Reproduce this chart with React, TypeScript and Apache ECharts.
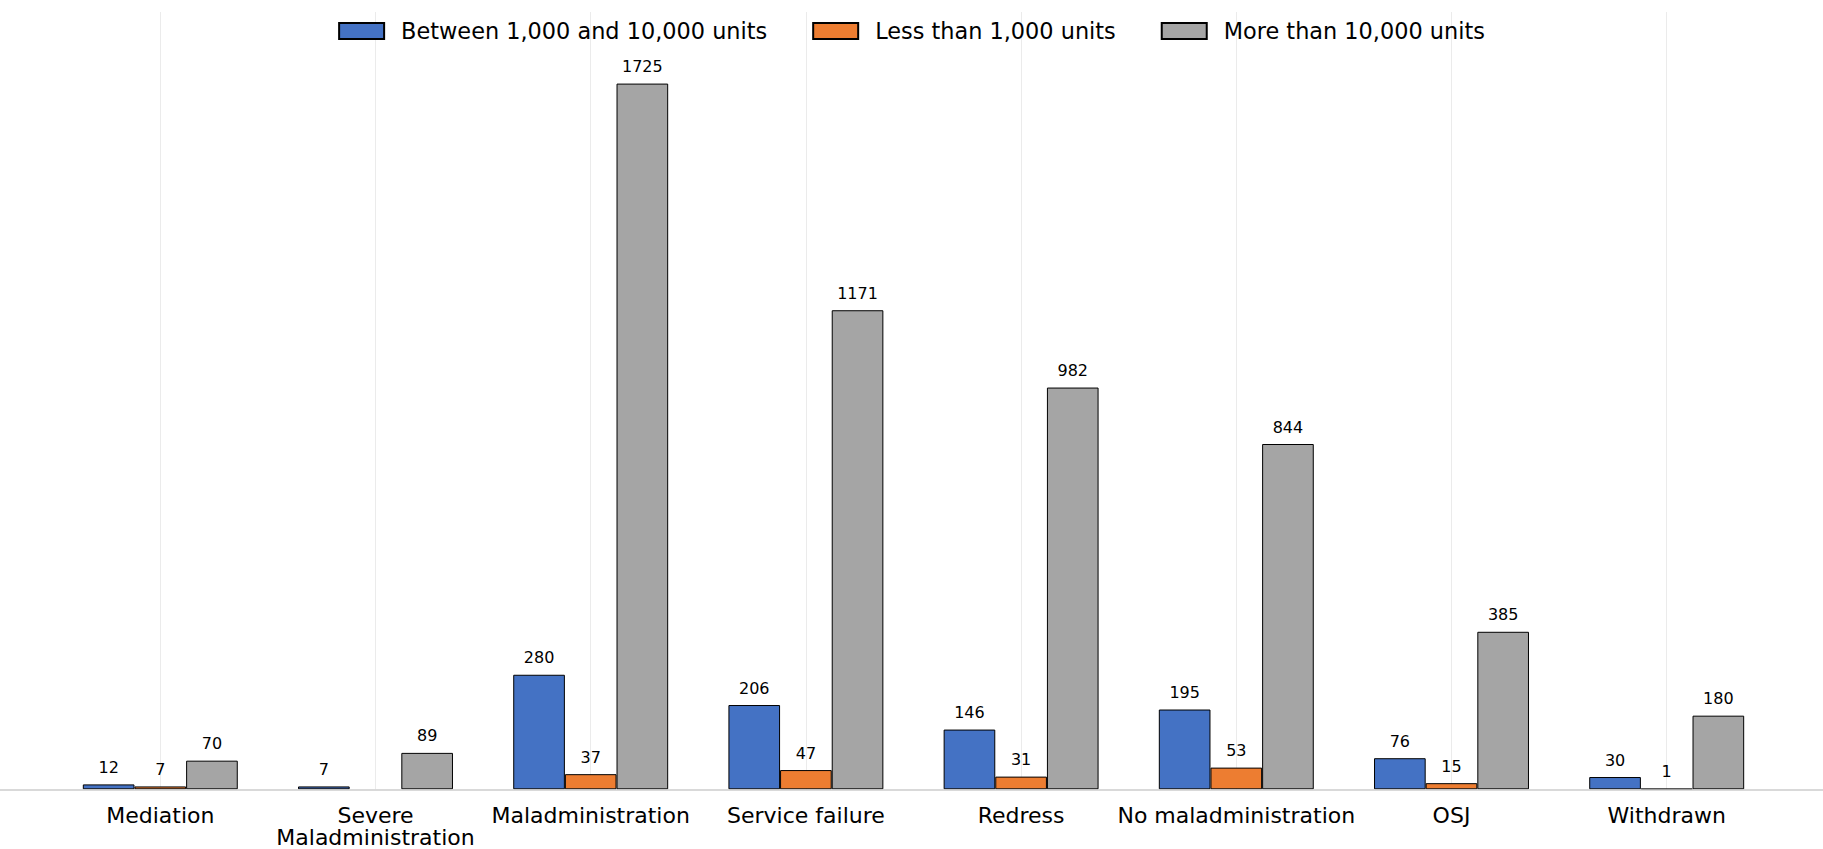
import React, { useEffect, useRef } from "react";
import * as echarts from "echarts";

// Complaint outcomes, split by organisation size
const categories = [
  "Mediation",
  "Severe\nMaladministration",
  "Maladministration",
  "Service failure",
  "Redress",
  "No maladministration",
  "OSJ",
  "Withdrawn",
];
const seriesNames = [
  "Between 1,000 and 10,000 units",
  "Less than 1,000 units",
  "More than 10,000 units",
];
const betweenUnits = [12, 7, 280, 206, 146, 195, 76, 30];
const lessThanUnits = [7, null, 37, 47, 31, 53, 15, 1];
const moreThanUnits = [70, 89, 1725, 1171, 982, 844, 385, 180];
const seriesColors = ["#4472C4", "#ED7D31", "#A5A5A5"];
const yMax = 1900;

const FONT = "DejaVu Sans";

export default function App() {
  const ref = useRef<HTMLDivElement>(null);

  useEffect(() => {
    if (!ref.current) return;
    const chart = echarts.init(ref.current, undefined, { renderer: "svg" });
    const values = [betweenUnits, lessThanUnits, moreThanUnits];

    const series: any[] = values.map((data, i) => ({
      type: "bar",
      name: seriesNames[i],
      data,
      xAxisIndex: 0,
      yAxisIndex: 0,
      barWidth: "24%",
      barGap: "0%",
      itemStyle: { color: seriesColors[i], borderColor: "#000", borderWidth: 1 },
      label: {
        show: true,
        position: "top",
        distance: 9,
        fontSize: 16,
        color: "#000",
        fontFamily: FONT,
      },
      emphasis: { disabled: true },
    }));

    // vertical grid lines at each category centre
    series.push({
      type: "line",
      name: "gridlines",
      data: [],
      xAxisIndex: 0,
      yAxisIndex: 0,
      z: 1,
      markLine: {
        silent: true,
        symbol: "none",
        z: 1,
        animation: false,
        label: { show: false },
        lineStyle: { color: "#ebebeb", width: 1, type: "solid" },
        data: categories.map((c) => ({ xAxis: c })),
      },
    });

    chart.setOption({
      animation: false,
      backgroundColor: "#ffffff",
      legend: {
        top: 15,
        left: "center",
        icon: "rect",
        itemWidth: 45,
        itemHeight: 16,
        itemGap: 45,
        data: seriesNames,
        textStyle: {
          fontSize: 22.4,
          color: "#000",
          fontFamily: FONT,
          padding: [0, 0, 0, 12],
        },
      },
      grid: [
        { left: 52.7, width: 1721.6, top: 12, bottom: 59.7, outerBoundsMode: "none" },
        { left: 0, right: 0, top: 12, bottom: 59.7, outerBoundsMode: "none" },
      ],
      xAxis: [
        {
          type: "category",
          gridIndex: 0,
          data: categories,
          axisLine: { show: false },
          axisTick: { show: false },
          splitLine: { show: false },
          axisLabel: {
            interval: 0,
            fontSize: 22,
            lineHeight: 22,
            margin: 15,
            color: "#000",
            fontFamily: FONT,
          },
        },
        {
          type: "value",
          gridIndex: 1,
          min: 0,
          max: 1,
          z: 10,
          axisLine: { show: true, onZero: false, lineStyle: { color: "#cccccc", width: 1.5 } },
          axisTick: { show: false },
          axisLabel: { show: false },
          splitLine: { show: false },
        },
      ],
      yAxis: [
        { type: "value", gridIndex: 0, min: 0, max: yMax, show: false },
        { type: "value", gridIndex: 1, min: 0, max: 1, show: false },
      ],
      series,
    });

    return () => chart.dispose();
  }, []);

  return (
    <div
      ref={ref}
      style={{ position: "fixed", left: 0, top: 0, width: 1823, height: 849 }}
    />
  );
}
